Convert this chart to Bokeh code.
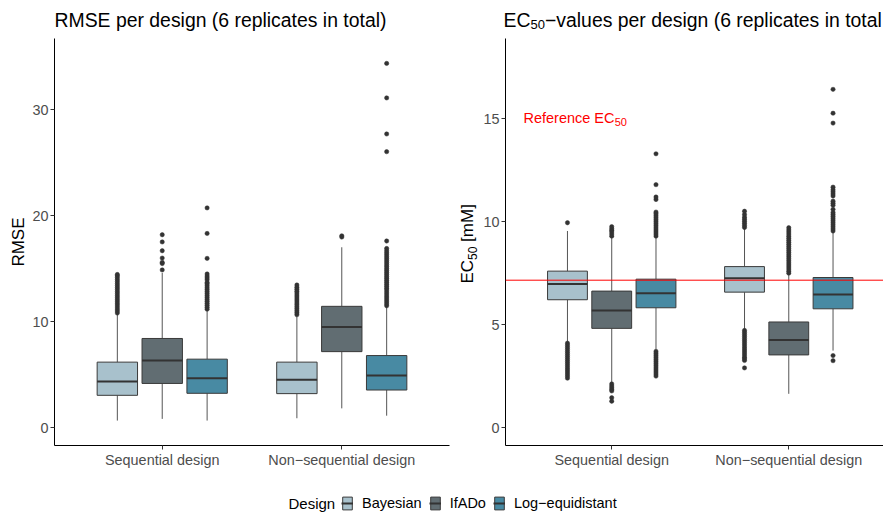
import math

from bokeh.embed import file_html
from bokeh.layouts import column, row
from bokeh.models import FixedTicker, Label, Legend, LegendItem, Range1d, Span
from bokeh.plotting import figure
from bokeh.resources import INLINE

FONT = "Liberation Sans"
TICK_COLOR = "#4d4d4d"
NAN = float("nan")

categories = ["Sequential design", "Non−sequential design"]
designs = ["Bayesian", "IfADo", "Log−equidistant"]
design_colors = ["#a8c1cc", "#616d72", "#488aa3"]

# Box statistics, one entry per (category, design):
# Seq/Bayesian, Seq/IfADo, Seq/Log, NonSeq/Bayesian, NonSeq/IfADo, NonSeq/Log
rmse_low = [0.68, 0.84, 0.68, 0.90, 1.83, 1.14]
rmse_q1 = [3.06, 4.18, 3.25, 3.22, 7.18, 3.56]
rmse_med = [4.36, 6.34, 4.67, 4.52, 9.50, 4.92]
rmse_q3 = [6.19, 8.42, 6.47, 6.19, 11.45, 6.81]
rmse_high = [10.74, 14.60, 11.10, 10.58, 17.02, 11.42]
rmse_outliers = [
    [10.82, 11.01, 11.19, 11.38, 11.57, 11.75, 11.94, 12.12, 12.31, 12.49, 12.68,
     12.86, 13.05, 13.23, 13.42, 13.60, 13.79, 13.97, 14.16, 14.33, 14.45],
    [14.88, 15.48, 15.60, 16.00, 16.69, 17.52, 18.20],
    [11.18, 11.36, 11.55, 11.73, 11.92, 12.10, 12.29, 12.47, 12.66, 12.84, 13.03,
     13.21, 13.40, 13.58, 13.70, 13.95, 14.13, 14.30, 14.50, 15.97, 18.32, 20.73],
    [10.66, 10.85, 11.03, 11.22, 11.40, 11.59, 11.77, 11.96, 12.14, 12.33, 12.51,
     12.70, 12.88, 13.07, 13.25, 13.46],
    [17.98, 18.10],
    [11.50, 11.68, 11.87, 12.05, 12.24, 12.42, 12.61, 12.79, 12.98, 13.16, 13.35,
     13.53, 13.72, 13.90, 14.09, 14.27, 14.46, 14.64, 14.83, 15.01, 15.20, 15.38,
     15.57, 15.75, 15.94, 16.12, 16.31, 16.49, 16.68, 16.90, 17.61, 26.03, 27.70,
     31.10, 34.35],
]

ec_low = [4.18, 2.21, 3.79, 4.79, 1.64, 3.74]
ec_q1 = [6.21, 4.82, 5.82, 6.58, 3.53, 5.77]
ec_med = [6.98, 5.69, 6.53, 7.26, 4.26, 6.47]
ec_q3 = [7.60, 6.63, 7.21, 7.82, 5.13, 7.29]
ec_high = [9.55, 9.22, 9.22, 9.66, 7.45, 9.50]
ec_outliers = [
    [9.95, 4.10, 4.00, 3.90, 3.80, 3.70, 3.60, 3.50, 3.40, 3.30, 3.20, 3.10, 3.00,
     2.90, 2.80, 2.70, 2.60, 2.50, 2.40],
    [9.30, 9.40, 9.50, 9.58, 9.66, 9.76, 2.12, 2.02, 1.93, 1.85, 1.78, 1.45, 1.28],
    [9.30, 9.40, 9.50, 9.60, 9.70, 9.80, 9.90, 10.00, 10.10, 10.20, 10.30, 10.40,
     10.47, 11.08, 11.20, 11.80, 13.30, 3.70, 3.60, 3.50, 3.40, 3.30, 3.20, 3.10,
     3.00, 2.90, 2.80, 2.70, 2.60, 2.50],
    [9.72, 9.82, 9.92, 10.02, 10.12, 10.22, 10.35, 10.51, 4.72, 4.62, 4.52, 4.42,
     4.32, 4.22, 4.12, 4.02, 3.92, 3.82, 3.72, 3.62, 3.52, 3.42, 3.34, 3.26, 2.90],
    [7.50, 7.60, 7.70, 7.80, 7.90, 8.00, 8.10, 8.20, 8.30, 8.40, 8.50, 8.60, 8.70,
     8.80, 8.90, 9.00, 9.10, 9.20, 9.30, 9.40, 9.50, 9.60, 9.71],
    [9.55, 9.65, 9.75, 9.85, 9.95, 10.05, 10.15, 10.25, 10.35, 10.45, 10.60, 10.80,
     10.90, 11.00, 11.25, 11.35, 11.45, 11.55, 11.68, 14.79, 15.27, 16.43, 3.50,
     3.25],
]
reference_ec50 = 7.16

rmse_ticks = [0, 10, 20, 30]
ec_ticks = [0, 5, 10, 15]

DODGE = 0.25
BOX_W = 0.225


def group_x():
    xs = []
    for ci in range(len(categories)):
        for di in range(len(designs)):
            xs.append(ci + 1 + (di - 1) * DODGE)
    return xs


def blank_strip(width, height):
    """A figure without axes whose frame is the whole canvas, used for text."""
    s = figure(width=width, height=height, toolbar_location=None,
               output_backend="svg", x_range=Range1d(0, 1), y_range=Range1d(0, 1),
               x_axis_location=None, y_axis_location=None, min_border=0)
    s.outline_line_color = None
    s.grid.visible = False
    return s


def make_panel(width, height, border_left, border_right, border_top, border_bottom,
               x_end, y_start, y_end, ticks):
    p = figure(width=width, height=height, toolbar_location=None,
               output_backend="svg", x_range=Range1d(0.4, x_end),
               y_range=Range1d(y_start, y_end), min_border_left=border_left,
               min_border_right=border_right, min_border_top=border_top,
               min_border_bottom=border_bottom)
    p.outline_line_color = None
    p.grid.visible = False
    p.xaxis.ticker = FixedTicker(ticks=[i + 1 for i in range(len(categories))])
    p.xaxis.major_label_overrides = {i + 1: c for i, c in enumerate(categories)}
    p.yaxis.ticker = FixedTicker(ticks=ticks)
    for ax in (p.xaxis, p.yaxis):
        ax.axis_line_color = "black"
        ax.axis_line_width = 1
        ax.major_tick_line_color = "#333333"
        ax.major_tick_out = 4
        ax.major_tick_in = 0
        ax.minor_tick_line_color = None
        ax.major_label_text_font = FONT
        ax.major_label_text_font_size = "14.4px"
        ax.major_label_text_color = TICK_COLOR
        ax.major_label_standoff = 2
    return p


def draw_boxes(p, low, q1, med, q3, high, outliers):
    xs = group_x()
    fills = [design_colors[i % len(designs)] for i in range(len(xs))]
    # whiskers
    p.segment(x0=xs, y0=q3, x1=xs, y1=high, line_color="#555555", line_width=1)
    p.segment(x0=xs, y0=q1, x1=xs, y1=low, line_color="#555555", line_width=1)
    # boxes
    p.vbar(x=xs, width=BOX_W, bottom=q1, top=q3, fill_color=fills,
           line_color="#3a3a3a", line_width=1)
    # medians
    p.segment(x0=[x - BOX_W / 2 for x in xs], y0=med,
              x1=[x + BOX_W / 2 for x in xs], y1=med,
              line_color="#333333", line_width=2)
    # outliers
    ox, oy = [], []
    for x, vals in zip(xs, outliers):
        ox.extend([x] * len(vals))
        oy.extend(vals)
    p.scatter(x=ox, y=oy, size=4.3, fill_color="#333333", line_color="#333333",
              line_width=0.5)


def screen_text(p, text, x, y, size, color="black", **kw):
    kw.setdefault("text_baseline", "middle")
    p.add_layout(Label(x=x, y=y, x_units="screen", y_units="screen", text=text,
                       text_font=FONT, text_font_size=size, text_color=color, **kw))


# ---- title strip ----
titles = blank_strip(883, 34)
screen_text(titles, "RMSE per design (6 replicates in total)", 54, 15, "19.4px")
ec_w = 26.9
screen_text(titles, "EC", 503, 15, "19.4px")
screen_text(titles, "50", 503 + ec_w, 10, "13px")
screen_text(titles, "−values per design (6 replicates in total", 503 + ec_w + 14.6,
            15, "19.4px")

# ---- y-axis title strip of the EC50 panel ----
ylab2 = blank_strip(25, 436)
yl_y = 162
yl_w = 23.6
screen_text(ylab2, "EC", 12, yl_y, "17px", angle=math.pi / 2, text_align="left")
screen_text(ylab2, "50", 16.5, yl_y + yl_w, "12px", angle=math.pi / 2,
            text_align="left")
screen_text(ylab2, "[mM]", 12, yl_y + yl_w + 13.3 + 4.7, "17px", angle=math.pi / 2,
            text_align="left")

# ---- RMSE panel ----
p1 = make_panel(455, 436, 54, 6, 0, 23, 2.6, -1.67, 36.7, rmse_ticks)
p1.yaxis.axis_label = "RMSE"
p1.yaxis.axis_label_text_font = FONT
p1.yaxis.axis_label_text_font_size = "17px"
p1.yaxis.axis_label_text_font_style = "normal"
p1.yaxis.axis_label_text_color = "black"
p1.yaxis.axis_label_standoff = 1
draw_boxes(p1, rmse_low, rmse_q1, rmse_med, rmse_q3, rmse_high, rmse_outliers)

# ---- EC50 panel ----
p2 = make_panel(403, 436, 23, 0, 4, 23, 2.535, -0.87, 18.9, ec_ticks)
p2.add_layout(Span(location=reference_ec50, dimension="width",
                   line_color="#ff0000", line_width=1))
draw_boxes(p2, ec_low, ec_q1, ec_med, ec_q3, ec_high, ec_outliers)
p2.add_layout(Label(x=0.507, y=15.04, x_offset=-1, text="Reference EC",
                    text_font=FONT, text_font_size="14.5px", text_color="#ff0000",
                    text_baseline="middle"))
p2.add_layout(Label(x=0.507, y=15.04, x_offset=90.2, y_offset=-4, text="50",
                    text_font=FONT, text_font_size="11px", text_color="#ff0000",
                    text_baseline="middle"))

# ---- legend strip ----
p3 = blank_strip(883, 45)
items = []
for name, col in zip(designs, design_colors):
    r_box = p3.vbar(x=[NAN], top=[NAN], bottom=[NAN], width=0.1, fill_color=col,
                    line_color="#3a3a3a", line_width=1)
    r_med = p3.line(x=[NAN], y=[NAN], line_color="#333333", line_width=2)
    items.append(LegendItem(label=name, renderers=[r_box, r_med]))
legend = Legend(items=items, orientation="horizontal", location=(341, 4),
                glyph_width=12, glyph_height=16, label_height=16, label_width=10,
                label_standoff=9, spacing=7, padding=0, margin=0,
                border_line_color=None, background_fill_alpha=0,
                label_text_font=FONT, label_text_font_size="14.5px",
                label_text_color="black")
p3.add_layout(legend)
screen_text(p3, "Design", 288, 12, "15px")

layout = column(titles, row(p1, ylab2, p2), p3)
open("out.html", "w").write(file_html(layout, INLINE))
